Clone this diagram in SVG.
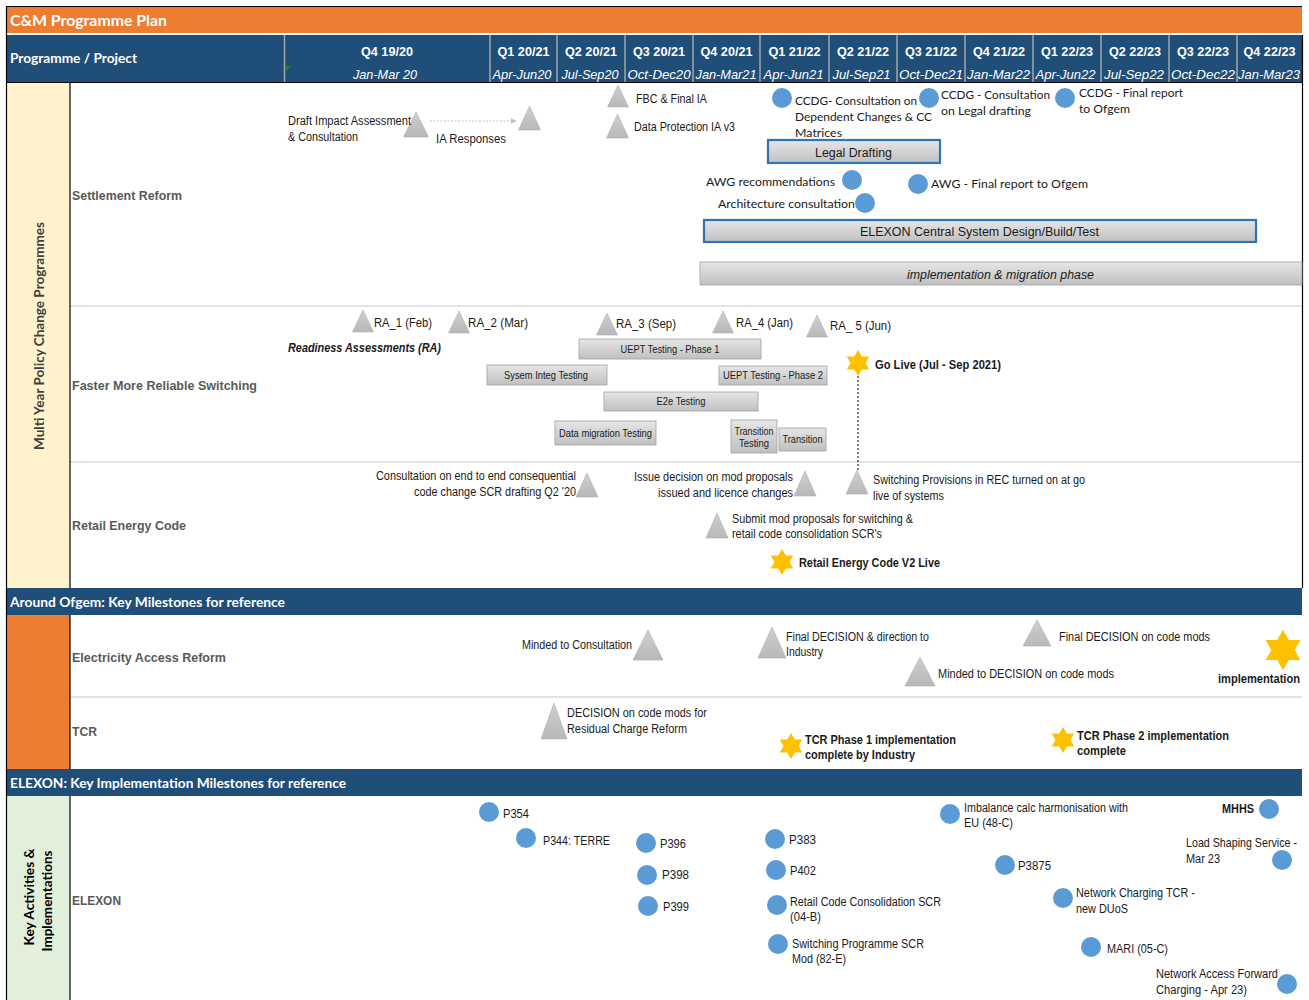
<svg xmlns="http://www.w3.org/2000/svg" width="1309" height="1000" viewBox="0 0 1309 1000">
<defs>
<style>
.a{font-family:"Liberation Sans",Arial,sans-serif;font-size:12px;fill:#1a1a1a}
.n{font-family:Lato,"Open Sans","Liberation Sans",sans-serif;font-size:12px;fill:#1a1a1a}
.bd{font-weight:bold}
.it{font-style:italic}
.sm{font-size:10.5px}
.row{font-family:"Liberation Sans",Arial,sans-serif;font-size:13px;font-weight:bold;fill:#595959}
.hq{font-family:"Liberation Sans",Arial,sans-serif;font-size:13.5px;font-weight:bold;fill:#fff}
.hd{font-family:"Liberation Sans",Arial,sans-serif;font-size:13px;font-style:italic;fill:#fff}
.ttl{font-family:Lato,"Liberation Sans",sans-serif;font-weight:bold;fill:#fff}
.vl{font-family:Lato,"Liberation Sans",sans-serif;font-weight:bold;font-size:13px}
.tri{fill:url(#gTri);stroke:#B0B0B0;stroke-width:0.6}
.bar{fill:url(#gBar);stroke:#A0A0A0;stroke-width:0.8}
.bbar{fill:url(#gBar);stroke:#2E75B6;stroke-width:2.2}
.dot{fill:#5B9BD5}
.star{fill:#FFC000}
.sep{stroke:#D9D9D9;stroke-width:1.5}
.hsep{stroke:#A6A6A6;stroke-width:1.5}
.frm{stroke:#000;stroke-width:1.2}
</style>
<linearGradient id="gTri" x1="0" y1="0" x2="0" y2="1"><stop offset="0" stop-color="#CFCFCF"/><stop offset="1" stop-color="#B8B8B8"/></linearGradient>
<linearGradient id="gBar" x1="0" y1="0" x2="0" y2="1"><stop offset="0" stop-color="#E6E6E6"/><stop offset="1" stop-color="#C0C0C0"/></linearGradient>
<polygon id="star6" points="0,-13 3.75,-6.5 11.26,-6.5 7.5,0 11.26,6.5 3.75,6.5 0,13 -3.75,6.5 -11.26,6.5 -7.5,0 -11.26,-6.5 -3.75,-6.5"/>
<marker id="arr" viewBox="0 0 10 10" refX="9" refY="5" markerWidth="6" markerHeight="6" orient="auto"><path d="M0,0 L10,5 L0,10 z" fill="#BFBFBF"/></marker>
</defs>

<!-- Title and header -->
<g id="title">
<rect x="7" y="7" width="1295" height="26" fill="#ED7D31"/>
<text class="ttl" x="10" y="26" font-size="15" textLength="157" lengthAdjust="spacingAndGlyphs">C&amp;M Programme Plan</text>
</g>
<g id="header">
<rect x="7" y="35" width="1295" height="47" fill="#1F4E79"/>
<text class="ttl" x="10" y="63" font-size="13.5" textLength="127" lengthAdjust="spacingAndGlyphs">Programme / Project</text>
<g>
<line class="hsep" x1="284.5" y1="35" x2="284.5" y2="82"/>
<line class="hsep" x1="490" y1="35" x2="490" y2="82"/>
<line class="hsep" x1="557" y1="35" x2="557" y2="82"/>
<line class="hsep" x1="625" y1="35" x2="625" y2="82"/>
<line class="hsep" x1="693" y1="35" x2="693" y2="82"/>
<line class="hsep" x1="760" y1="35" x2="760" y2="82"/>
<line class="hsep" x1="829" y1="35" x2="829" y2="82"/>
<line class="hsep" x1="897" y1="35" x2="897" y2="82"/>
<line class="hsep" x1="965" y1="35" x2="965" y2="82"/>
<line class="hsep" x1="1033" y1="35" x2="1033" y2="82"/>
<line class="hsep" x1="1101" y1="35" x2="1101" y2="82"/>
<line class="hsep" x1="1169" y1="35" x2="1169" y2="82"/>
<line class="hsep" x1="1237" y1="35" x2="1237" y2="82"/>
</g>
<polygon points="285,66 291,66 285,72" fill="#1B8A1B"/>
<g text-anchor="middle">
<text class="hq" x="387" y="56" textLength="52" lengthAdjust="spacingAndGlyphs">Q4 19/20</text>
<text class="hq" x="523.5" y="56" textLength="52" lengthAdjust="spacingAndGlyphs">Q1 20/21</text>
<text class="hq" x="591" y="56" textLength="52" lengthAdjust="spacingAndGlyphs">Q2 20/21</text>
<text class="hq" x="659" y="56" textLength="52" lengthAdjust="spacingAndGlyphs">Q3 20/21</text>
<text class="hq" x="726.5" y="56" textLength="52" lengthAdjust="spacingAndGlyphs">Q4 20/21</text>
<text class="hq" x="794.5" y="56" textLength="52" lengthAdjust="spacingAndGlyphs">Q1 21/22</text>
<text class="hq" x="863" y="56" textLength="52" lengthAdjust="spacingAndGlyphs">Q2 21/22</text>
<text class="hq" x="931" y="56" textLength="52" lengthAdjust="spacingAndGlyphs">Q3 21/22</text>
<text class="hq" x="999" y="56" textLength="52" lengthAdjust="spacingAndGlyphs">Q4 21/22</text>
<text class="hq" x="1067" y="56" textLength="52" lengthAdjust="spacingAndGlyphs">Q1 22/23</text>
<text class="hq" x="1135" y="56" textLength="52" lengthAdjust="spacingAndGlyphs">Q2 22/23</text>
<text class="hq" x="1203" y="56" textLength="52" lengthAdjust="spacingAndGlyphs">Q3 22/23</text>
<text class="hq" x="1269.5" y="56" textLength="52" lengthAdjust="spacingAndGlyphs">Q4 22/23</text>
<text class="hd" x="385" y="79" textLength="64" lengthAdjust="spacingAndGlyphs">Jan-Mar 20</text>
<text class="hd" x="522" y="79" textLength="59" lengthAdjust="spacingAndGlyphs">Apr-Jun20</text>
<text class="hd" x="590" y="79" textLength="57" lengthAdjust="spacingAndGlyphs">Jul-Sep20</text>
<text class="hd" x="659" y="79" textLength="63" lengthAdjust="spacingAndGlyphs">Oct-Dec20</text>
<text class="hd" x="726" y="79" textLength="61" lengthAdjust="spacingAndGlyphs">Jan-Mar21</text>
<text class="hd" x="793.5" y="79" textLength="60" lengthAdjust="spacingAndGlyphs">Apr-Jun21</text>
<text class="hd" x="861.5" y="79" textLength="58" lengthAdjust="spacingAndGlyphs">Jul-Sep21</text>
<text class="hd" x="931" y="79" textLength="64" lengthAdjust="spacingAndGlyphs">Oct-Dec21</text>
<text class="hd" x="998.5" y="79" textLength="63" lengthAdjust="spacingAndGlyphs">Jan-Mar22</text>
<text class="hd" x="1065.5" y="79" textLength="60" lengthAdjust="spacingAndGlyphs">Apr-Jun22</text>
<text class="hd" x="1134" y="79" textLength="60" lengthAdjust="spacingAndGlyphs">Jul-Sep22</text>
<text class="hd" x="1203" y="79" textLength="64" lengthAdjust="spacingAndGlyphs">Oct-Dec22</text>
<text class="hd" x="1269" y="79" textLength="62" lengthAdjust="spacingAndGlyphs">Jan-Mar23</text>
</g>
</g>

<!-- Section backgrounds and frame -->
<g id="frame">
<rect x="7" y="83" width="63" height="505" fill="#FFF2CC"/>
<rect x="7" y="615" width="63" height="154" fill="#ED7D31"/>
<rect x="7" y="796" width="63" height="204" fill="#E2EFDA"/>
<line class="sep" x1="70" y1="306" x2="1302" y2="306"/>
<line class="sep" x1="70" y1="462" x2="1302" y2="462"/>
<line class="sep" x1="70" y1="697" x2="1302" y2="697"/>
<line class="frm" x1="6.5" y1="6" x2="6.5" y2="1000"/>
<line class="frm" x1="6" y1="6.5" x2="1302" y2="6.5"/>
<line class="frm" x1="7" y1="82.5" x2="1302" y2="82.5"/>
<line class="frm" x1="70" y1="83" x2="70" y2="1000"/>
<line class="frm" x1="1302.5" y1="35" x2="1302.5" y2="588"/>
</g>
<g id="band-ofgem">
<rect x="7" y="588" width="1295" height="27" fill="#1F4E79"/>
<text class="ttl" x="10" y="607" font-size="13" textLength="275" lengthAdjust="spacingAndGlyphs">Around Ofgem: Key Milestones for reference</text>
</g>
<g id="band-elexon">
<rect x="7" y="769" width="1295" height="27" fill="#1F4E79"/>
<text class="ttl" x="10" y="788" font-size="13" textLength="336" lengthAdjust="spacingAndGlyphs">ELEXON: Key Implementation Milestones for reference</text>
</g>
<g id="cat-multi-year">
<text class="vl" fill="#404040" text-anchor="middle" transform="translate(44,336) rotate(-90)" textLength="228" lengthAdjust="spacingAndGlyphs">Multi Year Policy Change Programmes</text>
</g>
<g id="cat-key-activities">
<text class="vl" fill="#000" text-anchor="middle" transform="translate(34,897) rotate(-90)" textLength="97" lengthAdjust="spacingAndGlyphs">Key Activities &amp;</text>
<text class="vl" fill="#000" text-anchor="middle" transform="translate(52,901) rotate(-90)" textLength="101" lengthAdjust="spacingAndGlyphs">Implementations</text>
</g>

<!-- Row labels -->
<g id="row-labels">
<text class="row" x="72" y="200" textLength="110" lengthAdjust="spacingAndGlyphs">Settlement Reform</text>
<text class="row" x="72" y="390" textLength="185" lengthAdjust="spacingAndGlyphs">Faster More Reliable Switching</text>
<text class="row" x="72" y="530" textLength="114" lengthAdjust="spacingAndGlyphs">Retail Energy Code</text>
<text class="row" x="72" y="662" textLength="154" lengthAdjust="spacingAndGlyphs">Electricity Access Reform</text>
<text class="row" x="72" y="736" textLength="25" lengthAdjust="spacingAndGlyphs">TCR</text>
<text class="row" x="72" y="905" textLength="49" lengthAdjust="spacingAndGlyphs" fill="#404040">ELEXON</text>
</g>

<!-- Connectors -->
<g id="connectors">
<line x1="430" y1="121" x2="516" y2="121" stroke="#BFBFBF" stroke-width="1" stroke-dasharray="2,1.5" marker-end="url(#arr)"/>
<line x1="858" y1="376" x2="858" y2="470" stroke="#000" stroke-width="1" stroke-dasharray="2,2"/>
</g>

<!-- Settlement Reform -->
<g id="draft-ia">
<polygon class="tri" points="403.5,137 416,112 428.5,137"/>
<text class="a" x="288" y="125" textLength="123" lengthAdjust="spacingAndGlyphs">Draft Impact Assessment</text>
<text class="a" x="288" y="141" textLength="70" lengthAdjust="spacingAndGlyphs">&amp; Consultation</text>
</g>
<g id="ia-responses">
<polygon class="tri" points="518.5,130 529.5,106 540.5,130"/>
<text class="a" x="436" y="143" textLength="70" lengthAdjust="spacingAndGlyphs">IA Responses</text>
</g>
<g id="fbc-final-ia">
<polygon class="tri" points="607.5,107 618,85 628.5,107"/>
<text class="a" x="636" y="103" textLength="71" lengthAdjust="spacingAndGlyphs">FBC &amp; Final IA</text>
</g>
<g id="data-protection">
<polygon class="tri" points="606.5,138 617.5,114 628.5,138"/>
<text class="a" x="634" y="131" textLength="101" lengthAdjust="spacingAndGlyphs">Data Protection IA v3</text>
</g>
<g id="ccdg-1">
<circle class="dot" cx="782" cy="98" r="10"/>
<text class="n" x="795" y="105" textLength="122" lengthAdjust="spacingAndGlyphs">CCDG- Consultation on</text>
<text class="n" x="795" y="121" textLength="137" lengthAdjust="spacingAndGlyphs">Dependent Changes &amp; CC</text>
<text class="n" x="795" y="137" textLength="47" lengthAdjust="spacingAndGlyphs">Matrices</text>
</g>
<g id="ccdg-2">
<circle class="dot" cx="929" cy="98" r="10"/>
<text class="n" x="941" y="99" textLength="109" lengthAdjust="spacingAndGlyphs">CCDG - Consultation</text>
<text class="n" x="941" y="115" textLength="90" lengthAdjust="spacingAndGlyphs">on Legal drafting</text>
</g>
<g id="ccdg-3">
<circle class="dot" cx="1065" cy="98" r="10"/>
<text class="n" x="1079" y="97" textLength="104" lengthAdjust="spacingAndGlyphs">CCDG - Final report</text>
<text class="n" x="1079" y="113" textLength="51" lengthAdjust="spacingAndGlyphs">to Ofgem</text>
</g>
<g id="legal-drafting">
<rect class="bbar" x="768" y="140" width="172" height="23"/>
<text class="a" x="853.5" y="157" font-size="13.5" text-anchor="middle" textLength="77" lengthAdjust="spacingAndGlyphs">Legal Drafting</text>
</g>
<g id="awg-recommendations">
<circle class="dot" cx="852" cy="180" r="10"/>
<text class="n" x="835" y="186" text-anchor="end" textLength="129" lengthAdjust="spacingAndGlyphs">AWG recommendations</text>
</g>
<g id="architecture-consultation">
<circle class="dot" cx="865" cy="203" r="10"/>
<text class="n" x="855" y="208" text-anchor="end" textLength="137" lengthAdjust="spacingAndGlyphs">Architecture consultation</text>
</g>
<g id="awg-final">
<circle class="dot" cx="918" cy="184" r="10"/>
<text class="n" x="931" y="188" textLength="157" lengthAdjust="spacingAndGlyphs">AWG  - Final report to Ofgem</text>
</g>
<g id="elexon-csd">
<rect class="bbar" x="704" y="220" width="552" height="22"/>
<text class="a" x="979.5" y="236" font-size="13.5" text-anchor="middle" textLength="239" lengthAdjust="spacingAndGlyphs">ELEXON  Central System Design/Build/Test</text>
</g>
<g id="implementation-migration">
<rect class="bar" x="700" y="262" width="602" height="23"/>
<text class="a it" x="1000.5" y="279" font-size="13.5" text-anchor="middle" textLength="187" lengthAdjust="spacingAndGlyphs">implementation &amp; migration phase</text>
</g>

<!-- Faster More Reliable Switching -->
<g id="ra-1">
<polygon class="tri" points="352.5,332 363,310 373.5,332"/>
<text class="a" x="374" y="327" textLength="58" lengthAdjust="spacingAndGlyphs">RA_1 (Feb)</text>
</g>
<g id="ra-2">
<polygon class="tri" points="448.5,333 459,311 469.5,333"/>
<text class="a" x="468" y="327" textLength="60" lengthAdjust="spacingAndGlyphs">RA_2  (Mar)</text>
</g>
<g id="ra-3">
<polygon class="tri" points="596.5,335 607,313 617.5,335"/>
<text class="a" x="616" y="328" textLength="60" lengthAdjust="spacingAndGlyphs">RA_3  (Sep)</text>
</g>
<g id="ra-4">
<polygon class="tri" points="712.5,333 723,311 733.5,333"/>
<text class="a" x="736" y="327" textLength="57" lengthAdjust="spacingAndGlyphs">RA_4 (Jan)</text>
</g>
<g id="ra-5">
<polygon class="tri" points="806.5,337 817,315 827.5,337"/>
<text class="a" x="830" y="330" textLength="61" lengthAdjust="spacingAndGlyphs">RA_ 5  (Jun)</text>
</g>
<g id="ra-label">
<text class="a bd it" x="288" y="352" textLength="153" lengthAdjust="spacingAndGlyphs">Readiness Assessments (RA)</text>
</g>
<g id="uept-1">
<rect class="bar" x="579" y="339" width="182" height="20"/>
<text class="a sm" x="670" y="353" text-anchor="middle" textLength="99" lengthAdjust="spacingAndGlyphs">UEPT Testing - Phase 1</text>
</g>
<g id="sysem-integ">
<rect class="bar" x="487" y="365" width="120" height="20"/>
<text class="a sm" x="546" y="379" text-anchor="middle" textLength="84" lengthAdjust="spacingAndGlyphs">Sysem Integ Testing</text>
</g>
<g id="uept-2">
<rect class="bar" x="719" y="366" width="108" height="19"/>
<text class="a sm" x="773" y="379" text-anchor="middle" textLength="100" lengthAdjust="spacingAndGlyphs">UEPT Testing - Phase 2</text>
</g>
<g id="e2e">
<rect class="bar" x="604" y="392" width="154" height="19"/>
<text class="a sm" x="681" y="405" text-anchor="middle" textLength="49" lengthAdjust="spacingAndGlyphs">E2e Testing</text>
</g>
<g id="data-migration">
<rect class="bar" x="555" y="421" width="101" height="24"/>
<text class="a sm" x="605.5" y="437" text-anchor="middle" textLength="93" lengthAdjust="spacingAndGlyphs">Data migration Testing</text>
</g>
<g id="transition-testing">
<rect class="bar" x="731" y="420" width="46" height="33"/>
<text class="a sm" x="754" y="435" text-anchor="middle" textLength="39" lengthAdjust="spacingAndGlyphs">Transition</text>
<text class="a sm" x="754" y="447" text-anchor="middle" textLength="30" lengthAdjust="spacingAndGlyphs">Testing</text>
</g>
<g id="transition">
<rect class="bar" x="779" y="428" width="47" height="23"/>
<text class="a sm" x="802.5" y="443" text-anchor="middle" textLength="40" lengthAdjust="spacingAndGlyphs">Transition</text>
</g>
<g id="go-live">
<use href="#star6" class="star" transform="translate(858,363)"/>
<text class="a bd" x="875" y="369" textLength="126" lengthAdjust="spacingAndGlyphs">Go Live  (Jul - Sep 2021)</text>
</g>

<!-- Retail Energy Code -->
<g id="consultation-e2e">
<polygon class="tri" points="576,497 587,473 598,497"/>
<text class="a" x="576" y="480" text-anchor="end" textLength="200" lengthAdjust="spacingAndGlyphs">Consultation on end to end consequential</text>
<text class="a" x="576" y="496" text-anchor="end" textLength="162" lengthAdjust="spacingAndGlyphs">code change SCR drafting  Q2 '20</text>
</g>
<g id="issue-decision">
<polygon class="tri" points="794,496 805,471 816,496"/>
<text class="a" x="793" y="481" text-anchor="end" textLength="159" lengthAdjust="spacingAndGlyphs">Issue decision on mod proposals</text>
<text class="a" x="793" y="497" text-anchor="end" textLength="135" lengthAdjust="spacingAndGlyphs">issued and licence changes</text>
</g>
<g id="switching-provisions">
<polygon class="tri" points="846,494 857,470 868,494"/>
<text class="a" x="873" y="484" textLength="212" lengthAdjust="spacingAndGlyphs">Switching Provisions in REC turned on at go</text>
<text class="a" x="873" y="500" textLength="71" lengthAdjust="spacingAndGlyphs">live of systems</text>
</g>
<g id="submit-mod">
<polygon class="tri" points="706,538 717,513 728,538"/>
<text class="a" x="732" y="523" textLength="181" lengthAdjust="spacingAndGlyphs">Submit mod proposals for switching &amp;</text>
<text class="a" x="732" y="538" textLength="150" lengthAdjust="spacingAndGlyphs">retail code consolidation SCR's</text>
</g>
<g id="rec-v2">
<use href="#star6" class="star" transform="translate(782,562)"/>
<text class="a bd" x="799" y="567" textLength="141" lengthAdjust="spacingAndGlyphs">Retail Energy Code V2 Live</text>
</g>

<!-- Electricity Access Reform -->
<g id="minded-consultation">
<polygon class="tri" points="633,660 648,630 663,660"/>
<text class="a" x="632" y="649" text-anchor="end" textLength="110" lengthAdjust="spacingAndGlyphs">Minded to Consultation</text>
</g>
<g id="final-decision-direction">
<polygon class="tri" points="758,658 772,627 786,658"/>
<text class="a" x="786" y="641" textLength="143" lengthAdjust="spacingAndGlyphs">Final DECISION  &amp; direction to</text>
<text class="a" x="786" y="656" textLength="37" lengthAdjust="spacingAndGlyphs">Industry</text>
</g>
<g id="final-decision-mods">
<polygon class="tri" points="1023,646 1037,620 1051,646"/>
<text class="a" x="1059" y="641" textLength="151" lengthAdjust="spacingAndGlyphs">Final DECISION  on code mods</text>
</g>
<g id="minded-decision">
<polygon class="tri" points="905,686 920,657 935,686"/>
<text class="a" x="938" y="678" textLength="176" lengthAdjust="spacingAndGlyphs">Minded to DECISION  on code mods</text>
</g>
<g id="ear-implementation">
<use href="#star6" class="star" transform="translate(1283,650) scale(1.55)"/>
<text class="a bd" x="1300" y="683" text-anchor="end" textLength="82" lengthAdjust="spacingAndGlyphs">implementation</text>
</g>

<!-- TCR -->
<g id="decision-residual">
<polygon class="tri" points="541,739 554,703 567,739"/>
<text class="a" x="567" y="717" textLength="140" lengthAdjust="spacingAndGlyphs">DECISION  on code mods for</text>
<text class="a" x="567" y="733" textLength="120" lengthAdjust="spacingAndGlyphs">Residual Charge Reform</text>
</g>
<g id="tcr-phase1">
<use href="#star6" class="star" transform="translate(791,746)"/>
<text class="a bd" x="805" y="744" textLength="151" lengthAdjust="spacingAndGlyphs">TCR Phase 1 implementation</text>
<text class="a bd" x="805" y="759" textLength="110" lengthAdjust="spacingAndGlyphs">complete by Industry</text>
</g>
<g id="tcr-phase2">
<use href="#star6" class="star" transform="translate(1063,740)"/>
<text class="a bd" x="1077" y="740" textLength="152" lengthAdjust="spacingAndGlyphs">TCR Phase 2 implementation</text>
<text class="a bd" x="1077" y="755" textLength="49" lengthAdjust="spacingAndGlyphs">complete</text>
</g>

<!-- ELEXON -->
<g id="p354"><circle class="dot" cx="489" cy="812" r="10"/><text class="a" x="503" y="818" textLength="26" lengthAdjust="spacingAndGlyphs">P354</text></g>
<g id="p344"><circle class="dot" cx="526" cy="838" r="10"/><text class="a" x="543" y="845" textLength="67" lengthAdjust="spacingAndGlyphs">P344: TERRE</text></g>
<g id="p396"><circle class="dot" cx="646" cy="843" r="10"/><text class="a" x="660" y="848" textLength="26" lengthAdjust="spacingAndGlyphs">P396</text></g>
<g id="p398"><circle class="dot" cx="647" cy="875" r="10"/><text class="a" x="662" y="879" textLength="27" lengthAdjust="spacingAndGlyphs">P398</text></g>
<g id="p399"><circle class="dot" cx="648" cy="906" r="10"/><text class="a" x="663" y="911" textLength="26" lengthAdjust="spacingAndGlyphs">P399</text></g>
<g id="p383"><circle class="dot" cx="775" cy="839" r="10"/><text class="a" x="789" y="844" textLength="27" lengthAdjust="spacingAndGlyphs">P383</text></g>
<g id="p402"><circle class="dot" cx="776" cy="870" r="10"/><text class="a" x="790" y="875" textLength="26" lengthAdjust="spacingAndGlyphs">P402</text></g>
<g id="retail-code-scr"><circle class="dot" cx="777" cy="905" r="10"/><text class="a" x="790" y="906" textLength="151" lengthAdjust="spacingAndGlyphs">Retail Code Consolidation SCR</text><text class="a" x="790" y="921" textLength="31" lengthAdjust="spacingAndGlyphs">(04-B)</text></g>
<g id="switching-scr"><circle class="dot" cx="778" cy="944" r="10"/><text class="a" x="792" y="948" textLength="132" lengthAdjust="spacingAndGlyphs">Switching Programme SCR</text><text class="a" x="792" y="963" textLength="54" lengthAdjust="spacingAndGlyphs">Mod (82-E)</text></g>
<g id="imbalance"><circle class="dot" cx="950" cy="814" r="10"/><text class="a" x="964" y="812" textLength="164" lengthAdjust="spacingAndGlyphs">Imbalance calc harmonisation with</text><text class="a" x="964" y="827" textLength="49" lengthAdjust="spacingAndGlyphs">EU (48-C)</text></g>
<g id="p3875"><circle class="dot" cx="1005" cy="865" r="10"/><text class="a" x="1018" y="870" textLength="33" lengthAdjust="spacingAndGlyphs">P3875</text></g>
<g id="network-charging"><circle class="dot" cx="1063" cy="898" r="10"/><text class="a" x="1076" y="897" textLength="119" lengthAdjust="spacingAndGlyphs">Network Charging TCR -</text><text class="a" x="1076" y="913" textLength="52" lengthAdjust="spacingAndGlyphs">new DUoS</text></g>
<g id="mari"><circle class="dot" cx="1091" cy="947" r="10"/><text class="a" x="1107" y="953" textLength="61" lengthAdjust="spacingAndGlyphs">MARI (05-C)</text></g>
<g id="mhhs"><circle class="dot" cx="1269" cy="809" r="10"/><text class="a bd" x="1254" y="813" text-anchor="end" textLength="32" lengthAdjust="spacingAndGlyphs">MHHS</text></g>
<g id="load-shaping"><circle class="dot" cx="1282" cy="860" r="10"/><text class="a" x="1186" y="847" textLength="111" lengthAdjust="spacingAndGlyphs">Load Shaping Service -</text><text class="a" x="1186" y="863" textLength="34" lengthAdjust="spacingAndGlyphs">Mar 23</text></g>
<g id="network-access"><circle class="dot" cx="1287" cy="984" r="10"/><text class="a" x="1156" y="978" textLength="122" lengthAdjust="spacingAndGlyphs">Network Access Forward</text><text class="a" x="1156" y="994" textLength="91" lengthAdjust="spacingAndGlyphs">Charging - Apr 23)</text></g>
</svg>
